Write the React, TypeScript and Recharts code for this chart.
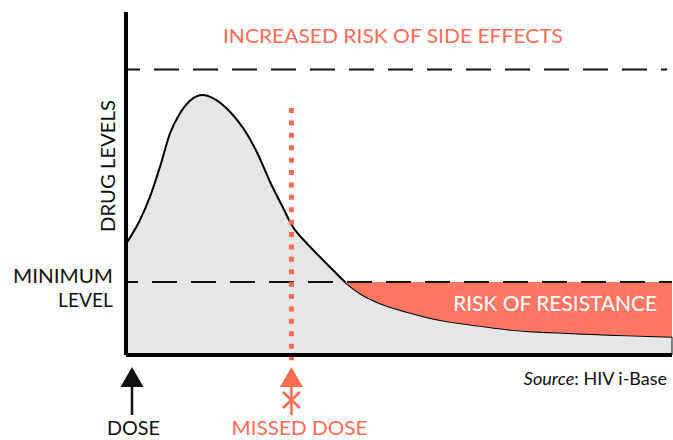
import React from "react";
import {
  ComposedChart,
  Area,
  XAxis,
  YAxis,
  ReferenceLine,
  ReferenceDot,
} from "recharts";

// ---- data ----
const TIME = [0, 2.56, 4.4, 6.23, 8.06, 9.89, 11.72, 14.1, 15.99, 19.05, 21.48, 23.94, 26.37, 28.81, 30.35, 33.1, 35.53, 37.97, 40.11, 42.86, 46.52, 51.41, 57.51, 63.61, 69.73, 81.92, 100];
const LEVEL = [32.36, 39.36, 46.15, 54.9, 64.64, 70.47, 74.14, 75.8, 74.84, 70.93, 66.09, 59.27, 50.52, 42.77, 37.9, 32.57, 28.57, 24.64, 21.3, 17.99, 15.07, 12.62, 10.2, 8.75, 7.49, 6.33, 5.34];
const MIN_LEVEL = 21.3;
const SIDE_EFFECT_LEVEL = 83.2;
const DOSE_TIME = 1.1;
const MISSED_TIME = 30.3;
const RESIST_START = 40.11;
const DOSE_LABELS = ["DOSE", "MISSED DOSE"];

const data = TIME.map((t, i) => ({
  t,
  level: LEVEL[i],
  resist: t >= RESIST_START ? [LEVEL[i], MIN_LEVEL] : null,
}));

const CORAL = "#fb6b55";
const CORAL_FILL = "#ff7764";
const GRAY = "#e5e6e8";
const FONT = "Lato, 'Open Sans', sans-serif";

const DoseTick = (props: any) => {
  const { x, y, payload } = props;
  const isMissed = payload.value === MISSED_TIME;
  const c = isMissed ? CORAL : "#111";
  const ay = y;
  return (
    <g>
      <polygon points={`${x},${ay + 12} ${x - 11.5},${ay + 32} ${x + 11.5},${ay + 32}`} fill={c} />
      <line x1={x} y1={ay + 31} x2={x} y2={ay + 60} stroke={c} strokeWidth={2.5} />
      {isMissed && (
        <g stroke={c} strokeWidth={2.5}>
          <line x1={x - 8.5} y1={ay + 37} x2={x + 8.5} y2={ay + 53} />
          <line x1={x + 8.5} y1={ay + 37} x2={x - 8.5} y2={ay + 53} />
        </g>
      )}
      <text
        x={isMissed ? x + 8 : x + 1.5}
        y={ay + 80}
        textAnchor="middle"
        fill={c}
        fontFamily={FONT}
        fontSize={19}
        textLength={isMissed ? 136 : 53}
        lengthAdjust="spacingAndGlyphs"
      >
        {isMissed ? DOSE_LABELS[1] : DOSE_LABELS[0]}
      </text>
    </g>
  );
};

const MinTick = (props: any) => {
  const { x, y } = props;
  return (
    <g fontFamily={FONT} fontSize={19.5} fill="#111">
      <text x={x - 13} y={y + 1} textAnchor="end" textLength={100} lengthAdjust="spacingAndGlyphs">MINIMUM</text>
      <text x={x - 13} y={y + 25} textAnchor="end" textLength={55} lengthAdjust="spacingAndGlyphs">LEVEL</text>
    </g>
  );
};

export default function App() {
  return (
    <div style={{ position: "absolute", left: 0, top: 0, width: 673, height: 440, background: "#fff" }}>
      <ComposedChart
        width={673}
        height={440}
        data={data}
        margin={{ top: 12, right: 1, bottom: 84, left: 125 }}
      >
        <Area
          type="monotone"
          dataKey="level"
          stroke="#000"
          strokeWidth={2}
          fill={GRAY}
          fillOpacity={1}
          baseValue={0}
          isAnimationActive={false}
          dot={false}
          activeDot={false}
        />
        <Area
          type="monotone"
          dataKey="resist"
          stroke="none"
          fill={CORAL_FILL}
          fillOpacity={1}
          isAnimationActive={false}
          dot={false}
          activeDot={false}
        />
        <ReferenceLine
          segment={[{ x: 100, y: 0 }, { x: 100, y: LEVEL[LEVEL.length - 1] }]}
          stroke="#333"
          strokeWidth={1.2}
        />
        <XAxis
          dataKey="t"
          type="number"
          domain={[0, 100]}
          ticks={[DOSE_TIME, MISSED_TIME]}
          interval={0}
          tick={<DoseTick />}
          tickLine={false}
          tickSize={0}
          tickMargin={0}
          height={1}
          axisLine={{ stroke: "#000", strokeWidth: 4 }}
        />
        <YAxis
          type="number"
          domain={[0, 100]}
          ticks={[MIN_LEVEL]}
          tick={<MinTick />}
          tickLine={false}
          tickSize={0}
          tickMargin={0}
          width={1}
          axisLine={{ stroke: "#000", strokeWidth: 4 }}
        />
        <ReferenceLine
          segment={[{ x: 0, y: SIDE_EFFECT_LEVEL }, { x: 99.1, y: SIDE_EFFECT_LEVEL }]}
          stroke="#111"
          strokeWidth={2}
          strokeDasharray="25 14"
          strokeDashoffset={11}
          ifOverflow="visible"
        />
        <ReferenceLine
          y={MIN_LEVEL}
          stroke="#111"
          strokeWidth={2}
          strokeDasharray="25 14"
          strokeDashoffset={13}
        />
        <ReferenceLine
          segment={[{ x: MISSED_TIME, y: 72 }, { x: MISSED_TIME, y: -1.5 }]}
          stroke={CORAL}
          strokeWidth={5}
          strokeDasharray="5 7.4"
          ifOverflow="visible"
        />
        <ReferenceDot
          x={48.9}
          y={91}
          ifOverflow="visible"
          shape={(p: any) => (
            <text x={p.cx} y={p.cy} textAnchor="middle" fill={CORAL} fontFamily={FONT} fontSize={19.5} textLength={340} lengthAdjust="spacingAndGlyphs">
              INCREASED RISK OF SIDE EFFECTS
            </text>
          )}
        />
        <ReferenceDot
          x={78.6}
          y={12.8}
          ifOverflow="visible"
          shape={(p: any) => (
            <text x={p.cx} y={p.cy} textAnchor="middle" fill="#fff" fontFamily={FONT} fontSize={21} textLength={204} lengthAdjust="spacingAndGlyphs">
              RISK OF RESISTANCE
            </text>
          )}
        />
        <ReferenceDot
          x={-2}
          y={55.1}
          ifOverflow="visible"
          shape={(p: any) => (
            <text x={p.cx} y={p.cy} transform={`rotate(-90 ${p.cx} ${p.cy})`} textAnchor="middle" fill="#111" fontFamily={FONT} fontSize={19.5} textLength={132} lengthAdjust="spacingAndGlyphs">
              DRUG LEVELS
            </text>
          )}
        />
        <ReferenceDot
          x={99.1}
          y={-8.7}
          ifOverflow="visible"
          shape={(p: any) => (
            <text x={p.cx} y={p.cy} textAnchor="end" fill="#111" fontFamily={FONT} fontSize={18}>
              <tspan fontStyle="italic">Source</tspan>: HIV i-Base
            </text>
          )}
        />
      </ComposedChart>
    </div>
  );
}
